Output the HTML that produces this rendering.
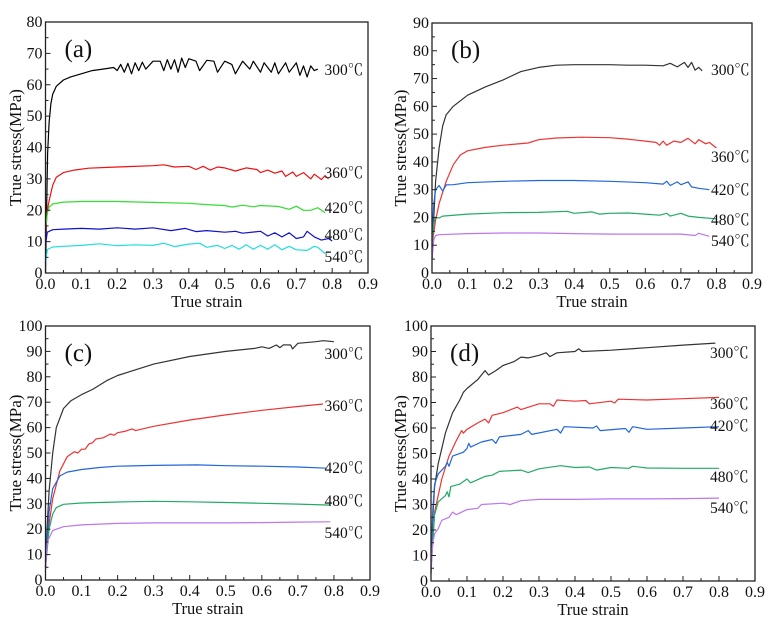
<!DOCTYPE html>
<html><head><meta charset="utf-8"><style>
html,body{margin:0;padding:0;background:#fff;}
svg{display:block;font-family:"Liberation Serif","Noto Serif CJK SC",serif;}
</style></head><body>
<svg id="fig" width="770" height="623" viewBox="0 0 770 623" xmlns="http://www.w3.org/2000/svg"></svg>
<script>
// ---- data ----
const xTicks = [0,0.1,0.2,0.3,0.4,0.5,0.6,0.7,0.8,0.9];
const tempLabels = ["300℃","360℃","420℃","480℃","540℃"];
const panelLetters = ["(a)","(b)","(c)","(d)"];
const yMaxes = [80,90,100,100];
const labelStressA = [64.7,31.9,20.7,12.1,5.1];
const labelStressB = [73.1,41.8,29.9,19.1,11.5];
const labelStressC = [89,68.5,44.1,31.1,18.5];
const labelStressD = [89.4,69.4,60.8,40.8,28.6];

const a300=[[0,0],[0.003,20],[0.006,38],[0.01,48],[0.015,54],[0.02,57],[0.03,59.5],[0.05,61.5],[0.07,62.5],[0.1,63.5],[0.13,64.5],[0.16,65],[0.19,65.5],[0.2,64.5],[0.21,66.5],[0.22,64],[0.23,66.8],[0.24,63.5],[0.25,67],[0.26,64.5],[0.27,67.2],[0.28,65],[0.3,67.5],[0.32,67.5],[0.33,64.5],[0.34,68],[0.35,65],[0.36,68],[0.37,64],[0.38,68.5],[0.39,65.5],[0.4,68.3],[0.42,67.5],[0.43,64.5],[0.45,67.8],[0.47,67.5],[0.48,64],[0.5,67.5],[0.52,66.5],[0.53,63.5],[0.55,67.5],[0.57,65],[0.58,67.5],[0.6,64],[0.61,67],[0.63,64],[0.64,67],[0.65,63.5],[0.67,67],[0.68,64],[0.7,67],[0.71,63],[0.72,66],[0.73,62.5],[0.74,66],[0.75,64.5],[0.76,65]];
const a360=[[0,12],[0.005,20],[0.01,23],[0.02,28],[0.03,30.5],[0.05,32],[0.08,32.8],[0.12,33.4],[0.2,33.8],[0.3,34.2],[0.33,34.5],[0.36,33.8],[0.4,34],[0.42,33],[0.44,34],[0.46,32.8],[0.48,33.8],[0.5,33.5],[0.53,32.5],[0.56,33.5],[0.59,33],[0.6,32],[0.62,32.8],[0.64,31.8],[0.66,32.5],[0.67,30.8],[0.69,32.2],[0.7,30.8],[0.72,32],[0.74,30],[0.75,31.5],[0.77,29.8],[0.78,31],[0.79,30]];
const a420=[[0,14],[0.005,19],[0.01,21],[0.02,22],[0.05,22.6],[0.1,22.8],[0.2,22.8],[0.3,22.5],[0.4,22.2],[0.45,21.8],[0.5,21.5],[0.52,21],[0.55,21.6],[0.58,21.1],[0.6,21.5],[0.65,21.2],[0.68,20.3],[0.7,21.3],[0.72,20],[0.74,20],[0.76,20.8],[0.78,19.2]];
const a480=[[0,9],[0.005,13],[0.02,13.8],[0.05,14],[0.1,14.2],[0.15,14],[0.2,14.4],[0.25,14],[0.3,14.4],[0.35,13.5],[0.39,14.2],[0.42,13.2],[0.45,13.5],[0.5,13],[0.53,13.3],[0.55,12.7],[0.6,13.3],[0.62,11.8],[0.64,12.8],[0.66,11.5],[0.68,12.8],[0.7,11],[0.72,11.5],[0.73,13.3],[0.75,11.5],[0.77,10.5],[0.79,11],[0.8,10.2]];
const a540=[[0,3],[0.005,7.5],[0.02,8.3],[0.05,8.5],[0.1,8.8],[0.15,9.3],[0.2,8.7],[0.25,9],[0.3,8.8],[0.33,9.5],[0.36,8.4],[0.4,9.2],[0.43,9.5],[0.45,8.2],[0.48,8.8],[0.5,7.8],[0.52,8.8],[0.54,7.6],[0.56,9],[0.58,7.6],[0.6,8.8],[0.62,7.6],[0.64,9],[0.66,7.4],[0.68,8.5],[0.7,7.4],[0.73,7.2],[0.75,8.5],[0.76,8.2],[0.78,6.2]];

const b300=[[0,5],[0.005,20],[0.01,33],[0.02,45],[0.03,53],[0.04,57],[0.06,60],[0.1,64],[0.15,67],[0.2,69.5],[0.25,72.5],[0.3,74],[0.35,74.8],[0.4,75],[0.5,75],[0.55,74.8],[0.6,74.8],[0.65,74.6],[0.67,75.5],[0.69,74.2],[0.71,75.8],[0.72,74],[0.73,75.8],[0.74,73],[0.75,74],[0.76,72.8]];
const b360=[[0,10],[0.01,19],[0.02,25],[0.04,33],[0.06,39],[0.08,42.5],[0.1,44],[0.15,45.2],[0.2,46],[0.27,46.8],[0.3,48],[0.35,48.6],[0.42,48.9],[0.5,48.7],[0.55,48.2],[0.6,47.5],[0.63,47],[0.64,46],[0.65,47.5],[0.66,46],[0.68,47.5],[0.7,47],[0.72,48.5],[0.74,46.5],[0.75,48],[0.77,46.5],[0.78,47],[0.8,45]];
const b420=[[0,12],[0.005,25],[0.01,30],[0.02,31.5],[0.03,29.5],[0.04,31.7],[0.06,31.8],[0.1,32.5],[0.2,33],[0.3,33.3],[0.4,33.3],[0.5,33],[0.6,32.5],[0.65,32],[0.66,33],[0.67,31.5],[0.69,32.8],[0.7,31.8],[0.72,32.8],[0.73,31],[0.75,30.5],[0.78,30]];
const b480=[[0,10],[0.005,18],[0.01,20],[0.02,19.8],[0.03,20.5],[0.1,21.2],[0.2,21.7],[0.3,21.8],[0.38,22.2],[0.4,21.5],[0.45,22],[0.47,21.2],[0.5,21.5],[0.55,21.6],[0.6,21.2],[0.64,20.8],[0.66,21.5],[0.67,20.5],[0.7,21.5],[0.72,20.5],[0.75,20],[0.8,19.5]];
const b540=[[0,5],[0.005,12],[0.01,13.5],[0.02,13.8],[0.1,14.2],[0.2,14.4],[0.3,14.4],[0.4,14.2],[0.5,14],[0.6,14],[0.7,14],[0.74,13.5],[0.75,14.3],[0.78,13.2]];

const c300=[[0,5],[0.005,22],[0.01,35],[0.02,50],[0.03,60],[0.05,67.5],[0.07,70.5],[0.1,73],[0.13,75],[0.17,78.5],[0.2,80.5],[0.3,85],[0.4,88],[0.5,90],[0.58,91.2],[0.6,91.8],[0.62,91.2],[0.64,92.5],[0.65,91.5],[0.66,92.6],[0.68,92.5],[0.685,91],[0.7,93.2],[0.75,93.8],[0.77,94.2],[0.8,93.8]];
const c360=[[0,5],[0.01,22],[0.02,32],[0.04,43],[0.06,48.5],[0.08,50.5],[0.09,50],[0.1,51.5],[0.11,51.5],[0.12,53.5],[0.13,54],[0.14,55.5],[0.16,56],[0.18,57.5],[0.19,57],[0.2,58],[0.22,58.5],[0.24,59.5],[0.25,58.8],[0.3,60.5],[0.4,63],[0.5,65],[0.6,66.8],[0.7,68.3],[0.77,69.3]];
const c420=[[0,5],[0.01,27],[0.02,36],[0.04,41],[0.06,42.5],[0.1,43.5],[0.15,44.3],[0.2,44.8],[0.3,45.1],[0.42,45.3],[0.5,45],[0.6,44.8],[0.7,44.5],[0.78,44]];
const c480=[[0,5],[0.01,20],[0.02,26],[0.03,28.5],[0.05,29.8],[0.1,30.3],[0.2,30.7],[0.3,31],[0.4,30.8],[0.5,30.5],[0.6,30.2],[0.7,29.9],[0.79,29.5]];
const c540=[[0,4],[0.005,15],[0.02,19.5],[0.05,21],[0.1,21.7],[0.2,22.3],[0.3,22.5],[0.4,22.5],[0.5,22.5],[0.6,22.6],[0.7,22.8],[0.79,22.9]];

const d300=[[0,3],[0.005,25],[0.01,37],[0.02,46],[0.04,58],[0.06,66],[0.08,71],[0.09,74],[0.1,75.5],[0.13,79],[0.15,82.5],[0.16,80.8],[0.18,82.5],[0.2,84.5],[0.23,86],[0.25,87.8],[0.27,87.5],[0.3,88.5],[0.32,89.5],[0.33,88],[0.35,89.5],[0.4,90],[0.41,91],[0.42,90],[0.5,90.5],[0.6,91.5],[0.7,92.5],[0.79,93.3]];
const d360=[[0,5],[0.01,27],[0.03,40],[0.05,49],[0.07,55],[0.085,59],[0.09,58],[0.1,59.5],[0.13,62],[0.15,63.5],[0.16,62],[0.17,65],[0.2,66],[0.24,68.2],[0.25,67.2],[0.3,69.5],[0.33,69.5],[0.34,68.5],[0.35,71],[0.4,70.5],[0.43,70.8],[0.44,69.5],[0.5,70.5],[0.51,69.8],[0.52,71.3],[0.6,71],[0.7,71.5],[0.8,72]];
const d420=[[0,8],[0.005,28],[0.01,38],[0.02,42],[0.04,45],[0.045,46.5],[0.05,45],[0.06,49],[0.09,50.5],[0.1,52],[0.105,54],[0.11,52.5],[0.14,54.5],[0.17,55.5],[0.18,54],[0.19,56.5],[0.25,57.5],[0.27,59],[0.28,57.5],[0.35,59.5],[0.36,58],[0.37,60.5],[0.45,60],[0.46,60.8],[0.47,59],[0.54,59.8],[0.55,58.3],[0.56,60.5],[0.6,59.5],[0.7,60],[0.8,60.5]];
const d480=[[0,5],[0.01,26],[0.02,31],[0.04,33.5],[0.045,35],[0.05,33],[0.055,37],[0.08,38],[0.1,40],[0.11,38.5],[0.15,41],[0.17,41.5],[0.19,43],[0.25,43.5],[0.27,42.5],[0.3,44],[0.36,45.2],[0.4,44.5],[0.44,44.7],[0.46,43.5],[0.5,44.5],[0.55,44.2],[0.56,45],[0.6,44.3],[0.7,44.2],[0.8,44.2]];
const d540=[[0,3],[0.005,15],[0.01,18.5],[0.02,20.5],[0.03,23.8],[0.05,25],[0.06,27],[0.07,26],[0.1,28],[0.13,28.5],[0.14,30],[0.2,30.5],[0.22,30],[0.25,31.5],[0.3,32],[0.35,32],[0.4,32],[0.5,32.2],[0.6,32.2],[0.7,32.3],[0.8,32.5]];

// ---- layout ----
const NS="http://www.w3.org/2000/svg";
const svg=document.getElementById('fig');
function mk(tag,attrs,parent){const e=document.createElementNS(NS,tag);for(const k in attrs)e.setAttribute(k,attrs[k]);(parent||svg).appendChild(e);return e;}
const panels=[
 {box:[45.5,22,368,273],ytitleX:15,series:[a300,a360,a420,a480,a540],colors:["#000","#f01010","#33dd33","#1010d0","#22dddd"],lab:labelStressA,name:"a"},
 {box:[432,23,752,273],ytitleX:400,series:[b300,b360,b420,b480,b540],colors:["#333","#ee3333","#2266dd","#22aa66","#bb77ee"],lab:labelStressB,name:"b"},
 {box:[45.5,326,370,580],ytitleX:15,series:[c300,c360,c420,c480,c540],colors:["#333","#ee3333","#2266dd","#22aa66","#bb77ee"],lab:labelStressC,name:"c"},
 {box:[431,326,755,581],ytitleX:400,series:[d300,d360,d420,d480,d540],colors:["#333","#ee3333","#2266dd","#22aa66","#bb77ee"],lab:labelStressD,name:"d"}
];
panels.forEach((p,pi)=>{
 const [L,T,R,B]=p.box; const ymax=yMaxes[pi];
 const xs=v=>L+(v-0)/0.9*(R-L);
 const ys=v=>B-v/ymax*(B-T);
 const g=mk('g',{});
 
 
 p.series.forEach((s,si)=>{
  const d=s.map((pt,i)=>(i?'L':'M')+xs(pt[0]).toFixed(1)+' '+ys(pt[1]).toFixed(1)).join(' ');
  const path=mk('path',{d:d,fill:'none',stroke:p.colors[si],'stroke-width':1.2,'stroke-linejoin':'round'},g);
  
  
  const t=mk('text',{x:L+279,y:ys(p.lab[si])+5,'font-size':15.5,fill:'#111'},g);
  t.textContent=tempLabels[si];
  
  
 });
 const fr=mk('rect',{x:L,y:T,width:R-L,height:B-T,fill:'none',stroke:'#222','stroke-width':1.3},g);
 
 
 xTicks.forEach((v,i)=>{
  const x=xs(v);
  mk('line',{x1:x,x2:x,y1:B,y2:B-5,stroke:'#222','stroke-width':1},g);
  if(i<xTicks.length-1){const xm=xs(v+0.05);mk('line',{x1:xm,x2:xm,y1:B,y2:B-3,stroke:'#222','stroke-width':1},g);}
  const t=mk('text',{x:x,y:B+16,'font-size':16,'text-anchor':'middle',fill:'#111'},g);
  t.textContent=v.toFixed(1);
  
  
 });
 for(let v=0;v<=ymax;v+=10){
  const y=ys(v);
  mk('line',{x1:L,x2:L+5,y1:y,y2:y,stroke:'#222','stroke-width':1},g);
  if(v<ymax){const ym=ys(v+5);mk('line',{x1:L,x2:L+3,y1:ym,y2:ym,stroke:'#222','stroke-width':1},g);}
  const t=mk('text',{x:L-3,y:y+5,'font-size':16,'text-anchor':'end',fill:'#111'},g);
  t.textContent=v;
  
  
 }
 const xt=mk('text',{x:(L+R)/2,y:B+34,'font-size':16.5,'text-anchor':'middle',fill:'#111'},g);
 xt.textContent='True strain';
 
 
 const yt=mk('text',{x:0,y:0,'font-size':17,'text-anchor':'middle',fill:'#111',transform:`translate(${p.ytitleX+6},${(T+B)/2}) rotate(-90)`},g);
 yt.textContent='True stress(MPa)';
 
 
 const pl=mk('text',{x:L+19,y:T+35,'font-size':25,fill:'#111'},g);
 pl.textContent=panelLetters[pi];
 
 
});
</script>
</body></html>
